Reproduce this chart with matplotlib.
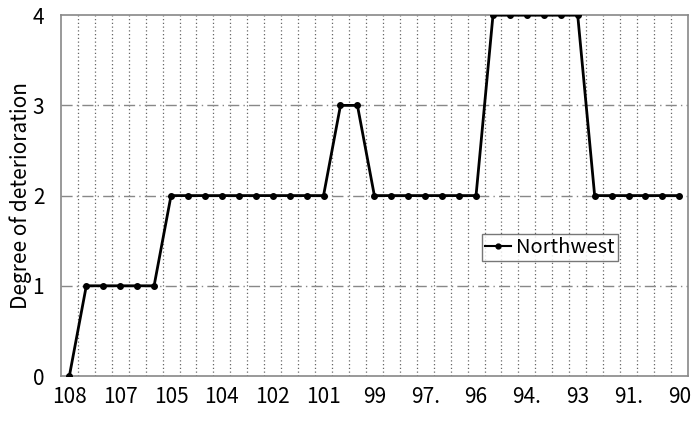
import matplotlib
matplotlib.use("Agg")
import matplotlib.pyplot as plt

plt.rcParams['font.family'] = ['Noto Sans CJK JP', 'DejaVu Sans']

values = [0, 1, 1, 1, 1, 1,
          2, 2, 2, 2, 2, 2, 2, 2, 2, 2,
          3, 3,
          2, 2, 2, 2, 2, 2, 2,
          4, 4, 4, 4, 4, 4,
          2, 2, 2, 2, 2, 2]
tick_labels = ["108", "107", "105", "104", "102", "101", "99", "97.", "96", "94.", "93", "91.", "90"]
tick_step = 3
series_name = "Northwest"

n = len(values)
x = list(range(n))

fig = plt.figure(figsize=(6.92, 4.22), dpi=100)
ax = fig.add_axes([0.088, 0.109, 0.906, 0.855])

# vertical gridlines at category boundaries
for b in range(n - 1):
    ax.axvline(b + 0.5, color="#666666", linestyle=(0, (1, 2)), linewidth=0.9, zorder=1)
for yv in [1, 2, 3]:
    ax.axhline(yv, color="#888888", linestyle=(0, (8, 3, 1, 3)), linewidth=1.0, zorder=1)

ax.plot(x, values, color="black", linewidth=2, marker="o", markersize=4, label=series_name, zorder=3)

ax.set_xlim(-0.5, n - 0.5)
ax.set_ylim(0, 4)
ax.set_yticks([0, 1, 2, 3, 4])
ax.set_xticks(list(range(0, n, tick_step)))
ax.set_xticklabels(tick_labels)
ax.tick_params(axis="both", length=0, labelsize=15)
ax.tick_params(axis="x", pad=7)
ax.tick_params(axis="y", pad=12)
for s in ax.spines.values():
    s.set_color("#888888")
    s.set_linewidth(1.2)

ax.set_ylabel("Degree of deterioration", fontsize=15)
ax.yaxis.set_label_coords(-0.046, 0.5)

leg = ax.legend(loc="center", bbox_to_anchor=(0.78, 0.355), fontsize=14.5, frameon=True,
                fancybox=False, edgecolor="#555555", handlelength=1.3, borderpad=0.15,
                handletextpad=0.25, borderaxespad=0)
leg.get_frame().set_linewidth(1.0)
for h in leg.get_lines():
    h.set_linewidth(1.5)
    h.set_markersize(3.5)

fig.savefig("out.png", dpi=100)
